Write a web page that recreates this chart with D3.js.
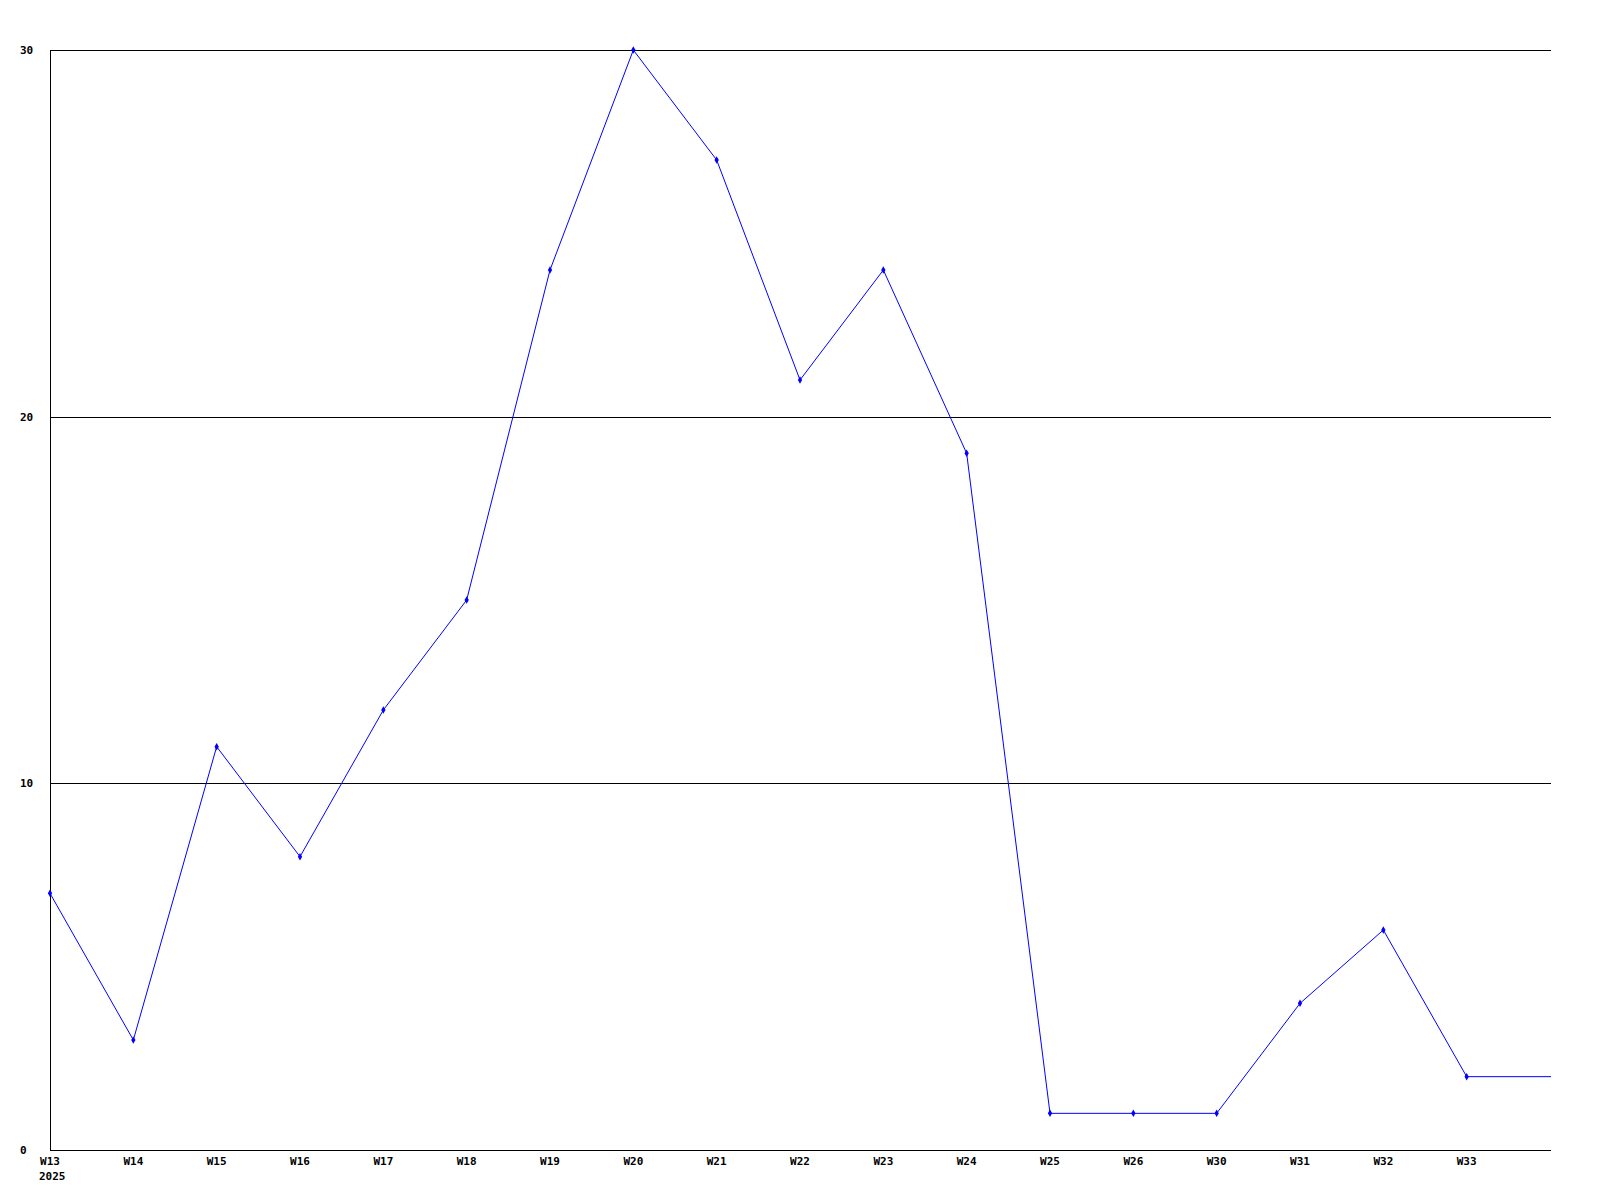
<!DOCTYPE html>
<html><head><meta charset="utf-8">
<script src="https://cdn.jsdelivr.net/npm/d3@7"></script>
<style>body{margin:0;background:#fff}svg{display:block}</style>
</head><body>
<script>
const categories = ["W13","W14","W15","W16","W17","W18","W19","W20","W21","W22","W23","W24","W25","W26","W30","W31","W32","W33"];
const values = [7,3,11,8,12,15,24,30,27,21,24,19,1,1,1,4,6,2];
const yTicks = [0,10,20,30];
const yearLabel = "2025";

const W = 1600, H = 1200;
const m = {left:50, right:50, top:50, bottom:50};
const svg = d3.select("body").append("svg").attr("width",W).attr("height",H);

const x = d3.scaleBand().domain(categories).range([m.left, W - m.right]).paddingInner(0).paddingOuter(0);
const y = d3.scaleLinear().domain([0,30]).range([H - m.bottom, m.top]);
const px = d => x(d);

const font = "'DejaVu Sans Mono', monospace";

// gridlines
svg.append("g").selectAll("line").data(yTicks.filter(t=>t>0)).join("line")
  .attr("x1", m.left).attr("x2", W - m.right + 1)
  .attr("y1", d=>Math.round(y(d))+0.5).attr("y2", d=>Math.round(y(d))+0.5)
  .attr("stroke","#000").attr("stroke-width",1).attr("shape-rendering","crispEdges");

// axes lines
svg.append("line").attr("x1", m.left+0.5).attr("x2", m.left+0.5).attr("y1", m.top).attr("y2", H-m.bottom+0.5)
  .attr("stroke","#000").attr("shape-rendering","crispEdges");
svg.append("line").attr("x1", m.left).attr("x2", W-m.right+1).attr("y1", H-m.bottom+0.5).attr("y2", H-m.bottom+0.5)
  .attr("stroke","#000").attr("shape-rendering","crispEdges");

// y labels
svg.append("g").selectAll("text").data(yTicks).join("text")
  .attr("x", 20).attr("y", d=>y(d)+4)
  .attr("font-family", font).attr("font-size", 11).attr("font-weight","bold")
  .text(d=>d);

// x labels
svg.append("g").selectAll("text").data(categories).join("text")
  .attr("x", d=>px(d)).attr("y", H - m.bottom + 15)
  .attr("text-anchor","middle")
  .attr("font-family", font).attr("font-size", 11).attr("font-weight","bold")
  .text(d=>d);
svg.append("text").attr("x", px(categories[0]) - 11).attr("y", H - m.bottom + 30)
  .attr("font-family", font).attr("font-size", 11).attr("font-weight","bold")
  .text(yearLabel);

// line
const pts = categories.map((c,i)=>[px(c), y(values[i])]);
pts.push([W - m.right + 1, y(values[values.length-1])]);
svg.append("path").attr("d", d3.line()(pts))
  .attr("fill","none").attr("stroke","#0000ff").attr("stroke-width",1);

// markers
svg.append("g").selectAll("path").data(categories).join("path")
  .attr("d", d3.symbol().type(d3.symbolDiamond).size(16))
  .attr("transform", (d,i)=>`translate(${px(d)},${y(values[i])})`)
  .attr("fill","#0000ff");
</script>
</body></html>
